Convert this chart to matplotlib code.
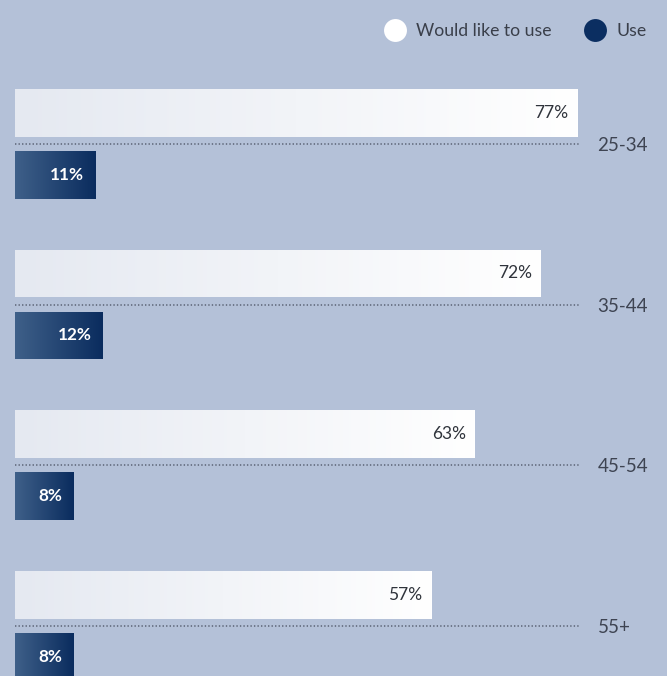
import matplotlib
matplotlib.use("Agg")
import matplotlib.pyplot as plt
import numpy as np
from matplotlib.lines import Line2D
from matplotlib.colors import LinearSegmentedColormap

categories = ["25-34", "35-44", "45-54", "55+"]
would_like = [77, 72, 63, 57]
use = [11, 12, 8, 8]
series_names = ["Would like to use", "Use"]

BG = "#B4C1D8"
NAVY = "#0B2E61"
plt.rcParams['font.family'] = ['Lato', 'DejaVu Sans']

fig = plt.figure(figsize=(6.67, 6.76), dpi=100, facecolor=BG)
ax = fig.add_axes([0, 0, 1, 1])
ax.set_facecolor(BG)
pxu = 7.3
ax.set_xlim(-15 / pxu, (667 - 15) / pxu)
sp = 160.5
ax.set_ylim((676 - 144) / sp, -144 / sp)
ax.axis('off')

h = 48 / sp
off = 31 / sp
y = np.arange(len(categories))

white_cmap = LinearSegmentedColormap.from_list("w", ["#E5E9F1", "#FFFFFF"])
navy_cmap = LinearSegmentedColormap.from_list("n", ["#3F6089", "#0A2C5E"])
grad = np.linspace(0, 1, 256).reshape(1, -1)

wbars = ax.barh(y - off, would_like, height=h, color="none", edgecolor="none")
ubars = ax.barh(y + off, use, height=h, color="none", edgecolor="none")

for bars, cmap in ((wbars, white_cmap), (ubars, navy_cmap)):
    for b in bars:
        x0, yb, w, hh = b.get_x(), b.get_y(), b.get_width(), b.get_height()
        im = ax.imshow(grad, cmap=cmap, aspect='auto',
                       extent=[x0, x0 + w, yb + hh, yb], zorder=2,
                       interpolation='bilinear')
        im.set_clip_path(b)

for i, cat in enumerate(categories):
    ax.plot([0, 77.2], [i, i], color="#5A6274", lw=1.1,
            linestyle=(0, (0.9, 1.4)), zorder=1)
    ax.text(79.8, i + 0.012, cat, ha='left', va='center', fontsize=13.5,
            color="#3E4452")
    ax.text(would_like[i] - 1.2, i - off, f"{would_like[i]}%", ha='right',
            va='center', fontsize=12.5, color="#2F333B", zorder=3)
    ax.text(use[i] - 1.5, i + off, f"{use[i]}%", ha='right', va='center',
            fontsize=12.3, color="white", fontweight='bold', zorder=3)

handles = [Line2D([], [], marker='o', linestyle='none', markersize=16.5,
                  markerfacecolor='white', markeredgecolor='none'),
           Line2D([], [], marker='o', linestyle='none', markersize=16.5,
                  markerfacecolor=NAVY, markeredgecolor='none')]
leg = fig.legend(handles, series_names, loc='upper right',
                 bbox_to_anchor=(0.993, 0.989), ncol=2, frameon=False,
                 fontsize=12.7, handletextpad=0.5, columnspacing=1.75,
                 labelcolor="#3A3F4A", handlelength=1.4)

fig.savefig("out.png", dpi=100, facecolor=BG)
